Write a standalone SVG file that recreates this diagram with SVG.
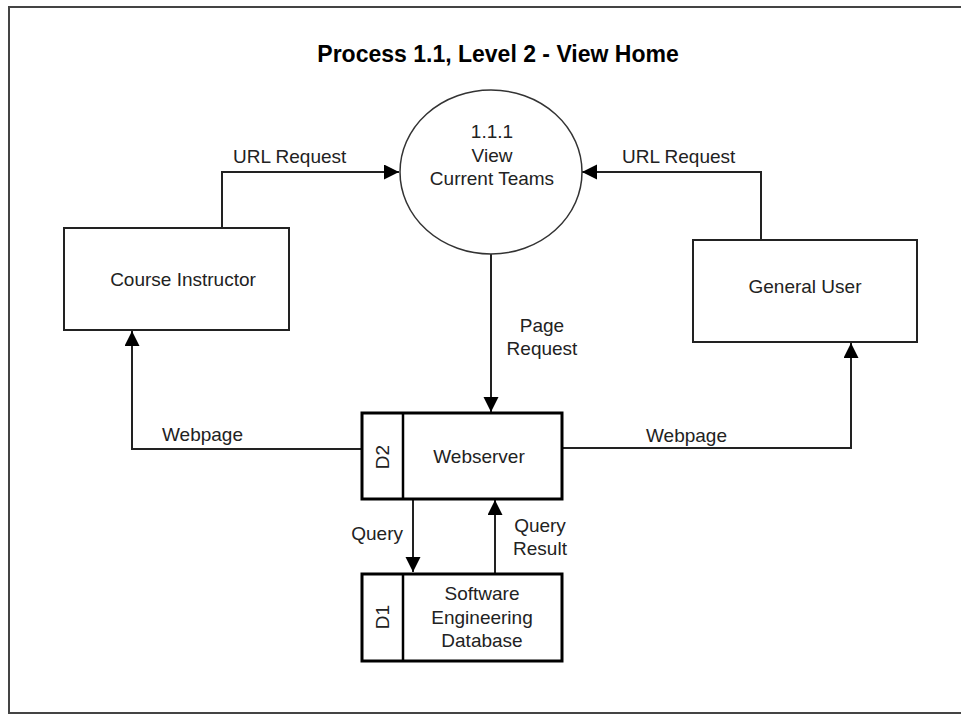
<svg xmlns="http://www.w3.org/2000/svg" width="961" height="715" viewBox="0 0 961 715">
<defs>
<marker id="arr" markerWidth="16" markerHeight="16" refX="15" refY="7.5" orient="auto" markerUnits="userSpaceOnUse">
<path d="M0,0 L15,7.5 L0,15 Z" fill="#000"/>
</marker>
<style>
text{font-family:"Liberation Sans",Arial,sans-serif;font-size:19px;fill:#222}
.t{font-weight:bold;font-size:23px;fill:#000}
.c{text-anchor:middle}
.ent{fill:#fff;stroke:#222;stroke-width:2}
.st{fill:#fff;stroke:#000;stroke-width:3}
.ln{fill:none;stroke:#222;stroke-width:2}
</style>
</defs>
<rect x="0" y="0" width="961" height="715" fill="#fff"/>
<rect x="9" y="7" width="960" height="706" fill="none" stroke="#444" stroke-width="2"/>
<text class="t c" x="498" y="62">Process 1.1, Level 2 - View Home</text>

<g id="connectors">
<path class="ln" d="M222,228 V172 H399" marker-end="url(#arr)"/>
<path class="ln" d="M761,240 V172 H582" marker-end="url(#arr)"/>
<path class="ln" d="M491,254 V412" marker-end="url(#arr)"/>
<path class="ln" d="M362,449 H132 V331" marker-end="url(#arr)"/>
<path class="ln" d="M562,448 H851 V343" marker-end="url(#arr)"/>
<path class="ln" d="M413,500 V572" marker-end="url(#arr)"/>
<path class="ln" d="M495,573 V500" marker-end="url(#arr)"/>
<text x="233" y="163">URL Request</text>
<text x="622" y="163">URL Request</text>
<text class="c" x="542" y="332">Page</text>
<text class="c" x="542" y="355">Request</text>
<text x="162" y="441">Webpage</text>
<text x="646" y="442">Webpage</text>
<text x="403" y="540" text-anchor="end">Query</text>
<text class="c" x="540" y="532">Query</text>
<text class="c" x="540" y="555">Result</text>
</g>

<g id="process-1-1-1">
<ellipse cx="491" cy="172" rx="91" ry="82" fill="#fff" stroke="#333" stroke-width="1.5"/>
<text class="c" x="492" y="138">1.1.1</text>
<text class="c" x="492" y="162">View</text>
<text class="c" x="492" y="185">Current Teams</text>
</g>

<g id="course-instructor">
<rect class="ent" x="64" y="228" width="225" height="102"/>
<text class="c" x="183" y="286">Course Instructor</text>
</g>

<g id="general-user">
<rect class="ent" x="693" y="240" width="224" height="102"/>
<text class="c" x="805" y="293">General User</text>
</g>

<g id="d2-webserver">
<rect class="st" x="362" y="413" width="200" height="86"/>
<line x1="403" y1="413" x2="403" y2="499" stroke="#000" stroke-width="2.5"/>
<text class="c" transform="translate(389,457) rotate(-90)">D2</text>
<text class="c" x="479" y="463">Webserver</text>
</g>

<g id="d1-database">
<rect class="st" x="362" y="574" width="200" height="87"/>
<line x1="403" y1="574" x2="403" y2="661" stroke="#000" stroke-width="2.5"/>
<text class="c" transform="translate(389,617) rotate(-90)">D1</text>
<text class="c" x="482" y="600">Software</text>
<text class="c" x="482" y="624">Engineering</text>
<text class="c" x="482" y="647">Database</text>
</g>
</svg>
